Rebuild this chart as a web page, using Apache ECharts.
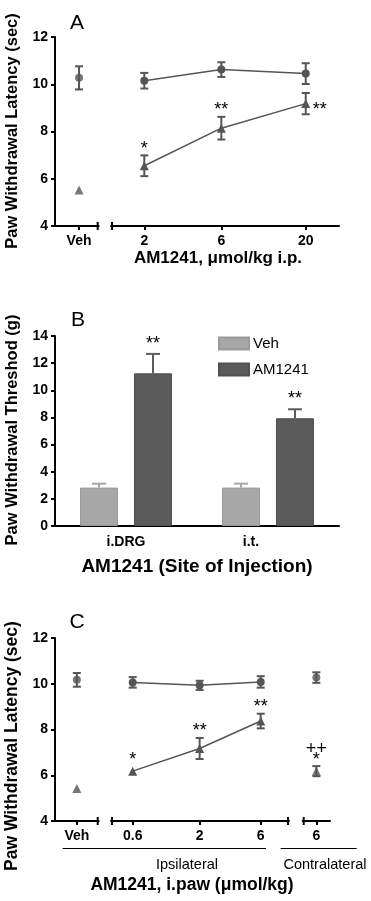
<!DOCTYPE html>
<html>
<head>
<meta charset="utf-8">
<script src="https://cdn.jsdelivr.net/npm/echarts@6/dist/echarts.min.js"></script>
<style>
html, body { margin: 0; padding: 0; background: #fff; }
#main { width: 371px; height: 901px; }
</style>
</head>
<body>
<div id="main"></div>
<script>
// ---- panel A : i.p. dose response (log dose axis)
var dosesA = [2, 6, 20];
var vehCircA = [10.27], vehCircErrA = [0.49], vehTriA = [5.52];
var circA = [10.15, 10.62, 10.45];
var circErrA = [0.33, 0.31, 0.44];
var triA = [6.55, 8.14, 9.18];
var triErrA = [0.44, 0.48, 0.45];
var starsA = ['*', '**', '**'];

// ---- panel B : site of injection
var sitesB = ['i.DRG', 'i.t.'];
var vehB = [2.83, 2.83];
var vehErrB = [0.29, 0.29];
var amB = [11.25, 7.94];
var amErrB = [1.43, 0.66];
var starsB = ['**', '**'];

// ---- panel C : i.paw dose response
var dosesC = [0.6, 2, 6];
var vehCircC = [10.17], vehCircErrC = [0.3], vehTriC = [5.42];
var circC = [10.06, 9.93, 10.08];
var circErrC = [0.23, 0.2, 0.25];
var triC = [6.18, 7.17, 8.37];
var triErrC = [0, 0.46, 0.32];
var starsC = ['*', '**', '**'];
var contraCircC = [10.27], contraCircErrC = [0.23];
var contraTriC = [6.18], contraTriErrC = [0.22];
var contraMarkC = ['++\n*'];

var MARK = '#555555';
var FONT = '"Liberation Sans", Arial, sans-serif';
var BAR_W = 38, BAR_GAP = 0.42;

var chart = echarts.init(document.getElementById('main'));

function logPts(doses, vals) {
    return doses.map(function (d, i) { return [Math.log10(d), vals[i]]; });
}

// error bars + significance marks
function errSeries(ax, pts, errs, marks, markPos) {
    return {
        type: 'custom',
        xAxisIndex: ax, yAxisIndex: ax,
        data: pts.map(function (p, i) { return [p[0], p[1], errs[i]]; }),
        z: 3,
        renderItem: function (params, api) {
            var x = api.value(0), m = api.value(1), e = api.value(2);
            var t = api.coord([x, m + e]), b = api.coord([x, m - e]), c = api.coord([x, m]);
            var st = { stroke: MARK, lineWidth: 2 };
            var kids = [];
            if (e > 0) {
                kids.push(
                    { type: 'line', shape: { x1: t[0], y1: t[1], x2: b[0], y2: b[1] }, style: st },
                    { type: 'line', shape: { x1: t[0] - 4, y1: t[1], x2: t[0] + 4, y2: t[1] }, style: st },
                    { type: 'line', shape: { x1: b[0] - 4, y1: b[1], x2: b[0] + 4, y2: b[1] }, style: st }
                );
            }
            var s = marks ? marks[params.dataIndex] : '';
            if (s) {
                var pos = markPos ? markPos[params.dataIndex] : 'top';
                var tx = t[0], ty = t[1] - (e > 0 ? 1 : 6), va = 'bottom', ta = 'center';
                if (pos === 'right') { tx = c[0] + 7; ty = c[1] + 6; ta = 'left'; va = 'middle'; }
                kids.push({
                    type: 'text',
                    style: { text: s, x: tx, y: ty, align: ta, verticalAlign: va,
                        font: '18px ' + FONT, fill: '#000', lineHeight: 11 }
                });
            }
            return { type: 'group', children: kids };
        }
    };
}

// little end bars where the x axis is broken
function capSeries(ax, left, right) {
    return {
        type: 'custom',
        xAxisIndex: ax, yAxisIndex: ax,
        data: [[0, 0]],
        silent: true,
        renderItem: function (params) {
            var cs = params.coordSys;
            var y = cs.y + cs.height, kids = [];
            var st = { stroke: '#000', lineWidth: 2 };
            if (left) kids.push({ type: 'line', shape: { x1: cs.x + 1, y1: y - 4, x2: cs.x + 1, y2: y + 4 }, style: st });
            if (right) kids.push({ type: 'line', shape: { x1: cs.x + cs.width - 1, y1: y - 4, x2: cs.x + cs.width - 1, y2: y + 4 }, style: st });
            return { type: 'group', children: kids };
        }
    };
}

function markSeries(ax, type, pts, symbol, size) {
    return {
        type: type,
        xAxisIndex: ax, yAxisIndex: ax,
        data: pts,
        symbol: symbol,
        symbolSize: size,
        itemStyle: { color: MARK },
        lineStyle: { color: MARK, width: 1.5 },
        z: 4
    };
}

var axLine = { show: true, onZero: false, lineStyle: { color: '#000', width: 2 } };
var axTick = { show: true, length: 4, lineStyle: { color: '#000', width: 2 } };
var tickLbl = { color: '#000', fontFamily: FONT, fontWeight: 'bold', fontSize: 14, margin: 8 };

function doseFmt(v) { return String(+Math.pow(10, v).toPrecision(2)); }

function xVal(grid, min, max, vals, fmt) {
    return {
        type: 'value', gridIndex: grid, min: min, max: max,
        axisLine: axLine,
        axisTick: Object.assign({ customValues: vals }, axTick),
        axisLabel: Object.assign({ customValues: vals, formatter: fmt }, tickLbl),
        splitLine: { show: false }
    };
}
function yVal(grid, min, max, show) {
    return {
        type: 'value', gridIndex: grid, min: min, max: max, interval: 2, show: show,
        axisLine: axLine, axisTick: axTick,
        axisLabel: Object.assign({}, tickLbl, { margin: 7 }),
        splitLine: { show: false }
    };
}

function g(left, top, width, height) {
    return { left: left, top: top, width: width, height: height, outerBoundsMode: 'none' };
}

function txt(s, x, y, font, extra) {
    var el = {
        type: 'text', x: x, y: y,
        style: { text: s, x: 0, y: 0, align: 'center', verticalAlign: 'middle', font: font, fill: '#000' }
    };
    return Object.assign(el, extra || {});
}

var vehFmt = function () { return 'Veh'; };

var option = {
    animation: false,
    grid: [
        g(55, 37, 43.7, 189),
        g(111, 37, 228, 189),
        g(55, 336, 284, 190),
        g(55, 638, 43.7, 183),
        g(111, 638, 178, 183),
        g(302.7, 638, 27.3, 183)
    ],
    xAxis: [
        xVal(0, -1.1, 0.9, [0], vehFmt),
        xVal(1, 0.0947, 1.507, dosesA.map(Math.log10), doseFmt),
        {
            type: 'category', gridIndex: 2, data: sitesB,
            axisLine: axLine, axisTick: { show: false },
            axisLabel: Object.assign({}, tickLbl, {
                margin: 9,
                formatter: function (v, i) { return i === 1 ? '{s|' + v + '}' : v; },
                rich: { s: { padding: [0, 34, 0, 0], color: '#000', fontFamily: FONT, fontWeight: 'bold', fontSize: 14 } }
            })
        },
        xVal(3, -1, 1, [0], vehFmt),
        xVal(4, -0.3913, 0.999, dosesC.map(Math.log10), doseFmt),
        xVal(5, -1, 1, [0], function () { return '6'; })
    ],
    yAxis: [
        yVal(0, 4, 12, true),
        yVal(1, 4, 12, false),
        yVal(2, 0, 14, true),
        yVal(3, 4, 12, true),
        yVal(4, 4, 12, false),
        yVal(5, 4, 12, false)
    ],
    legend: {
        data: ['Veh', 'AM1241'],
        orient: 'vertical',
        left: 213, top: 331,
        itemWidth: 30, itemHeight: 12, itemGap: 11,
        icon: 'rect',
        textStyle: { color: '#000', fontFamily: FONT, fontSize: 15, padding: [0, 0, 0, -1] },
        selectedMode: false
    },
    series: [
        // A
        markSeries(0, 'scatter', [[0, vehCircA[0]]], 'circle', 8),
        markSeries(0, 'scatter', [[0, vehTriA[0]]], 'triangle', 9),
        errSeries(0, [[0, vehCircA[0]]], vehCircErrA),
        markSeries(1, 'line', logPts(dosesA, circA), 'circle', 8),
        markSeries(1, 'line', logPts(dosesA, triA), 'triangle', 9),
        errSeries(1, logPts(dosesA, circA), circErrA),
        errSeries(1, logPts(dosesA, triA), triErrA, starsA, ['top', 'top', 'right']),
        capSeries(0, false, true),
        capSeries(1, true, false),
        // B
        {
            name: 'Veh', type: 'bar', xAxisIndex: 2, yAxisIndex: 2, data: vehB,
            barWidth: BAR_W, barGap: (BAR_GAP * 100) + '%',
            itemStyle: { color: '#a7a7a7', borderColor: '#9a9a9a', borderWidth: 1 }
        },
        {
            name: 'AM1241', type: 'bar', xAxisIndex: 2, yAxisIndex: 2, data: amB,
            barWidth: BAR_W,
            itemStyle: { color: '#5b5b5b', borderColor: '#505050', borderWidth: 1 }
        },
        {
            type: 'custom', xAxisIndex: 2, yAxisIndex: 2, z: 3,
            data: sitesB.map(function (s, i) { return [i, vehB[i], vehErrB[i], amB[i], amErrB[i]]; }),
            renderItem: function (params, api) {
                var i = api.value(0), off = BAR_W * (1 + BAR_GAP) / 2;
                var kids = [];
                [[api.value(1), api.value(2), -off, '#a7a7a7', ''], [api.value(3), api.value(4), off, '#5b5b5b', starsB[params.dataIndex]]]
                    .forEach(function (b) {
                        var base = api.coord([i, b[0]]), top = api.coord([i, b[0] + b[1]]);
                        var x = base[0] + b[2];
                        var st = { stroke: b[3], lineWidth: 2 };
                        kids.push({ type: 'line', shape: { x1: x, y1: base[1], x2: x, y2: top[1] }, style: st });
                        kids.push({ type: 'line', shape: { x1: x - 7, y1: top[1], x2: x + 7, y2: top[1] }, style: st });
                        if (b[4]) kids.push({ type: 'text', style: { text: b[4], x: x, y: top[1] - 1, align: 'center', verticalAlign: 'bottom', font: '18px ' + FONT, fill: '#000' } });
                    });
                return { type: 'group', children: kids };
            }
        },
        // C
        markSeries(3, 'scatter', [[0, vehCircC[0]]], 'circle', 8),
        markSeries(3, 'scatter', [[0, vehTriC[0]]], 'triangle', 9),
        errSeries(3, [[0, vehCircC[0]]], vehCircErrC),
        markSeries(4, 'line', logPts(dosesC, circC), 'circle', 8),
        markSeries(4, 'line', logPts(dosesC, triC), 'triangle', 9),
        errSeries(4, logPts(dosesC, circC), circErrC),
        errSeries(4, logPts(dosesC, triC), triErrC, starsC),
        markSeries(5, 'scatter', [[0, contraCircC[0]]], 'circle', 8),
        markSeries(5, 'scatter', [[0, contraTriC[0]]], 'triangle', 9),
        errSeries(5, [[0, contraCircC[0]]], contraCircErrC),
        errSeries(5, [[0, contraTriC[0]]], contraTriErrC, contraMarkC),
        capSeries(3, false, true),
        capSeries(4, true, true),
        capSeries(5, true, false)
    ],
    graphic: [
        txt('A', 77, 23, '21px ' + FONT),
        txt('B', 78, 320, '21px ' + FONT),
        txt('C', 77, 622, '21px ' + FONT),
        txt('Paw Withdrawal Latency (sec)', 12, 131, 'bold 16.5px ' + FONT, { rotation: Math.PI / 2 }),
        txt('Paw Withdrawal Threshod (g)', 12, 430, 'bold 16.5px ' + FONT, { rotation: Math.PI / 2 }),
        txt('Paw Withdrawal Latency (sec)', 12, 746, 'bold 17.5px ' + FONT, { rotation: Math.PI / 2 }),
        txt('AM1241, \u03bcmol/kg i.p.', 218, 258, 'bold 17px ' + FONT),
        txt('AM1241 (Site of Injection)', 197, 567, 'bold 19px ' + FONT),
        txt('AM1241, i.paw (\u03bcmol/kg)', 192, 885, 'bold 17.5px ' + FONT),
        txt('Ipsilateral', 187, 865, '14.5px ' + FONT),
        txt('Contralateral', 325, 865, '14.5px ' + FONT),
        { type: 'line', shape: { x1: 62.7, y1: 848.5, x2: 266, y2: 848.5 }, style: { stroke: '#000', lineWidth: 1 } },
        { type: 'line', shape: { x1: 280.7, y1: 848.5, x2: 356.7, y2: 848.5 }, style: { stroke: '#000', lineWidth: 1 } }
    ]
};

chart.setOption(option);
window.addEventListener('resize', function () { chart.resize(); });
</script>
</body>
</html>
